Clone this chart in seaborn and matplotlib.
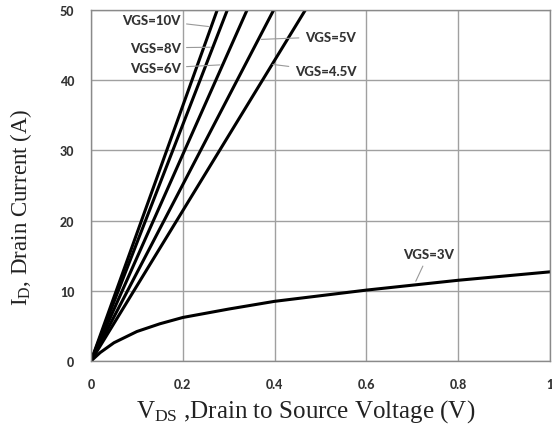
import matplotlib
matplotlib.use("Agg")
import matplotlib.pyplot as plt
import seaborn as sns
import pandas as pd
from matplotlib import font_manager

sns.set_theme(style="white")
plt.rcParams['font.family'] = ['Lato', 'DejaVu Sans']
plt.rcParams['mathtext.fontset'] = 'custom'
plt.rcParams['mathtext.rm'] = 'Liberation Serif'

# Data
vds_10 = [0.0, 0.275]
id_10 = [0.0, 50.0]
vds_8 = [0.0, 0.297]
id_8 = [0.0, 50.0]
vds_6 = [0.0, 0.340]
id_6 = [0.0, 50.0]
vds_5 = [0.0, 0.398]
id_5 = [0.0, 50.0]
vds_45 = [0.0, 0.467]
id_45 = [0.0, 50.0]
vds_3 = [0.0, 0.02, 0.05, 0.1, 0.15, 0.2, 0.3, 0.4, 0.5, 0.6, 0.7, 0.8, 0.9, 1.0]
id_3 = [0.0, 1.2, 2.6, 4.2, 5.3, 6.2, 7.4, 8.5, 9.3, 10.1, 10.8, 11.5, 12.1, 12.7]

series = [("VGS=10V", vds_10, id_10), ("VGS=8V", vds_8, id_8), ("VGS=6V", vds_6, id_6),
          ("VGS=5V", vds_5, id_5), ("VGS=4.5V", vds_45, id_45), ("VGS=3V", vds_3, id_3)]
rows = []
for name, xs, ys in series:
    for x, y in zip(xs, ys):
        rows.append({"series": name, "vds": x, "id": y})
df = pd.DataFrame(rows)

x_ticks = [0, 0.2, 0.4, 0.6, 0.8, 1.0]
x_tick_labels = ["0", "0.2", "0.4", "0.6", "0.8", "1"]
y_ticks = [0, 10, 20, 30, 40, 50]

fig = plt.figure(figsize=(5.52, 4.31), dpi=100)
ax = fig.add_axes([91/552, 69/431, 459/552, 351/431])

sns.lineplot(data=df, x="vds", y="id", units="series", estimator=None,
             color="black", linewidth=2.2, ax=ax, sort=False)

ax.set_xlim(0, 1)
ax.set_ylim(0, 50)
ax.set_xticks(x_ticks)
ax.set_xticklabels(x_tick_labels)
ax.set_yticks(y_ticks)
ax.grid(True, color="#a0a0a0", linewidth=1.0)
for s in ax.spines.values():
    s.set_color("#8a8a8a")
    s.set_linewidth(1.0)
ax.tick_params(axis="both", length=0, labelsize=9, labelcolor="#333333", pad=12)
for lab in ax.get_xticklabels() + ax.get_yticklabels():
    lab.set_fontweight("black")

ax.set_xlabel(r"$\mathrm{V_{DS}}$ ,Drain to Source Voltage (V)", fontsize=18,
              family="Liberation Serif", color="#222222", va="center")
ax.xaxis.set_label_coords(0.468, -0.14)
ax.set_ylabel(r"$\mathrm{I_D}$, Drain Current (A)", fontsize=16.5,
              family="Liberation Serif", color="#222222", va="center")
ax.yaxis.set_label_coords(-0.152, 0.44)

ann_kw = dict(fontsize=9.5, fontweight="black", color="#333333",
              arrowprops=dict(arrowstyle="-", color="#999999", lw=0.8))
ax.annotate("VGS=10V", xy=(0.262, 47.6), xytext=(0.195, 48.6), ha="right", va="center", **ann_kw)
ax.annotate("VGS=8V", xy=(0.266, 44.7), xytext=(0.195, 44.6), ha="right", va="center", **ann_kw)
ax.annotate("VGS=6V", xy=(0.287, 42.2), xytext=(0.195, 41.7), ha="right", va="center", **ann_kw)
ax.annotate("VGS=5V", xy=(0.365, 45.8), xytext=(0.466, 46.2), ha="left", va="center", **ann_kw)
ax.annotate("VGS=4.5V", xy=(0.39, 42.3), xytext=(0.444, 41.3), ha="left", va="center", **ann_kw)
ax.annotate("VGS=3V", xy=(0.705, 11.0), xytext=(0.735, 15.2), ha="center", va="center", **ann_kw)

fig.savefig("out.png", dpi=100)
